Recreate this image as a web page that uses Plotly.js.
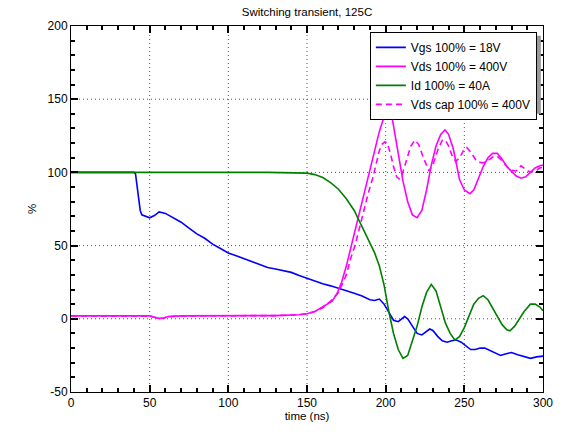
<!DOCTYPE html>
<html>
<head>
<meta charset="utf-8">
<script src="https://cdn.plot.ly/plotly-3.0.1.min.js"></script>
<style>html,body{margin:0;padding:0;background:#fff;}#chart{width:572px;height:436px;}</style>
</head>
<body>
<div id="chart"></div>
<script>
// Vgs (100% = 18V)
var vgsT = [0, 10, 20, 30, 40, 41, 42, 43, 44, 45, 47, 50, 53, 56, 60, 65, 70, 75, 80, 85, 90, 95, 100, 105, 110, 115, 120, 125, 130, 135, 140, 145, 150, 155, 160, 165, 170, 175, 180, 185, 190, 193, 196, 199, 202, 205, 208, 210, 212, 214, 217, 220, 223, 226, 228, 230, 233, 236, 239, 242, 245, 248, 251, 254, 257, 260, 263, 266, 270, 273, 276, 280, 284, 288, 292, 296, 300];
var vgsV = [100, 100, 100, 100.5, 100, 99, 90, 80, 74, 71, 70, 69, 70.5, 73, 72, 69, 66, 62, 58, 55, 51, 48, 45, 43, 41, 38.5, 36.5, 35, 34, 33, 31.7, 29.5, 27.5, 26, 24, 22.5, 21, 19.5, 17.5, 15.5, 13, 12.5, 13.5, 10, 4, -1, -2, 0, 1.5, 0, -5, -10, -11, -8.5, -7, -8, -12, -15, -16, -15, -14.5, -16, -18.5, -21, -21, -20, -20, -21.5, -23.5, -25, -24, -23, -24.5, -26, -27, -26, -25.5];

// Vds (100% = 400V)
var vdsT = [0, 20, 40, 50, 53, 56, 59, 62, 70, 100, 130, 145, 150, 155, 160, 163, 166, 169, 172, 175, 178, 181, 184, 187, 190, 193, 196, 199, 201.7, 204, 208, 211, 214, 217, 220, 223, 226, 229, 232, 235, 237.7, 240, 243, 247, 250, 253.6, 256, 259, 262, 265, 268, 271, 274, 277, 280, 283, 286, 289, 292, 295, 298, 300];
var vdsV = [2, 2, 2, 2, 1, 0.3, 0.5, 1.5, 2, 2, 2.2, 2.8, 3.5, 5, 8, 10, 12, 17, 25, 36, 49, 62, 75, 88, 101, 115, 128, 138, 142.5, 138, 112, 94, 80, 71, 69, 74, 88, 105, 118, 126, 129, 126, 116, 95, 88, 85.5, 88, 96, 104, 110, 113, 113, 109, 104, 101, 97.5, 96, 97, 100, 103, 104.5, 105];

// Id (100% = 40A)
var idT = [0, 25, 50, 75, 100, 125, 150, 155, 160, 165, 170, 175, 180, 185, 190, 193, 196, 199, 202, 205, 208, 211, 214, 217, 220, 223, 226, 229, 232, 235, 238, 241, 244, 247, 250, 253, 256, 259, 262, 265, 268, 271, 274, 277, 279, 282, 285, 288, 292, 295, 298, 300];
var idV = [100, 100, 100.5, 100, 100.5, 100, 99.5, 98.5, 96.5, 93, 88.5, 82, 74, 63, 52, 45, 36, 23, 5, -10, -21, -27, -25, -15, -5, 8, 18, 23.5, 19, 8, -3, -10, -14.5, -12, -6, 2, 10, 14, 15.8, 13, 7, 1, -4, -7.5, -8.2, -5, 0.5, 5, 10, 10, 8, 5.5];

// Vds cap (100% = 400V)
var capT = [0, 20, 40, 50, 53, 56, 59, 62, 70, 100, 130, 145, 150, 155, 160, 165, 170, 175, 178, 180.5, 183, 186, 189, 192, 194, 196, 198, 199.6, 201, 203, 205, 207, 208.5, 210, 212, 214, 216, 218.6, 221, 224, 227.5, 230, 233, 236, 238, 240, 242, 244.5, 247, 250, 251.5, 254, 257, 259, 262, 265, 268, 271, 274, 277, 280, 283, 286, 289, 292, 295, 298, 300];
var capV = [2, 2, 2, 2, 1, 0.3, 0.5, 1.5, 2, 2, 2.2, 2.8, 3.5, 5, 7.5, 12, 18, 30, 42, 50, 61, 74, 86, 97, 106, 115, 119.5, 121, 120, 113, 104, 97, 95.5, 97, 104, 111, 118, 122, 119, 110, 101, 105, 115, 122, 122, 118, 112, 107.5, 110, 116, 117, 114, 109, 107, 106.5, 108, 110.5, 111, 108, 104, 101.5, 101, 104.5, 102, 100, 101, 103, 103.5];

var names = ['Vgs 100% = 18V', 'Vds 100% = 400V', 'Id 100% = 40A', 'Vds cap 100% = 400V'];
var xTicks = [0, 50, 100, 150, 200, 250, 300];
var yTicks = [-50, 0, 50, 100, 150, 200];

var traces = [
  {x: vgsT, y: vgsV, name: names[0], mode: 'lines', line: {color: '#0000ff', width: 1.6}},
  {x: vdsT, y: vdsV, name: names[1], mode: 'lines', line: {color: '#ff00ff', width: 1.6}},
  {x: idT, y: idV, name: names[2], mode: 'lines', line: {color: '#008000', width: 1.6}},
  {x: capT, y: capV, name: names[3], mode: 'lines', line: {color: '#ff00ff', width: 1.6, dash: '6px,4px'}}
];

var tickFont = {family: 'Liberation Sans, Arial, sans-serif', size: 12, color: '#000'};

function axis(range, ticks, titleText, standoff) {
  return {
    range: range, tickmode: 'array', tickvals: ticks, ticktext: ticks.map(String),
    showline: true, linecolor: '#000', linewidth: 1, mirror: 'allticks',
    ticks: 'inside', ticklen: 7, tickcolor: '#000', tickwidth: 1.5,
    showgrid: false, zeroline: false,
    tickfont: tickFont,
    minor: {dtick: 10, ticks: 'inside', ticklen: 4, tickwidth: 1.5, tickcolor: '#000'},
    title: {text: titleText, font: {size: 11.5, color: '#000'}, standoff: standoff}
  };
}

// dotted grid at the major ticks, drawn under the traces
var gridShapes = [];
xTicks.slice(1, -1).forEach(function (v) {
  gridShapes.push({type: 'line', xref: 'x', yref: 'paper', x0: v, x1: v, y0: 0, y1: 1, layer: 'below',
                   line: {color: '#555', width: 1, dash: '1px,3px'}});
});
yTicks.slice(1, -1).forEach(function (v) {
  gridShapes.push({type: 'line', xref: 'paper', yref: 'y', x0: 0, x1: 1, y0: v, y1: v, layer: 'below',
                   line: {color: '#555', width: 1, dash: '1px,3px'}});
});
// legend shadow
gridShapes.push({type: 'rect', xref: 'paper', yref: 'paper', layer: 'above',
  x0: 0.987 - 165/472 + 4/472, x1: 0.987 + 4/472,
  y0: 0.984 - 78/366 - 4/366, y1: 0.984 - 4/366,
  fillcolor: '#999', line: {width: 0}});

var layout = {
  width: 572, height: 436,
  margin: {l: 71, r: 29, t: 26, b: 44},
  font: {family: 'Liberation Sans, Arial, sans-serif', color: '#000'},
  title: {text: 'Switching transient, 125C', font: {size: 11.5, color: '#000'}, x: 0.5, xref: 'paper', y: 0.972, yanchor: 'middle'},
  xaxis: axis([0, 300], xTicks, 'time (ns)', 0),
  yaxis: axis([-50, 200], yTicks, '%', 8),
  showlegend: true,
  legend: {
    x: 0.987, xanchor: 'right', y: 0.984, yanchor: 'top',
    bgcolor: '#fff', bordercolor: '#000', borderwidth: 1,
    font: {size: 12, color: '#000'}, tracegroupgap: 0
  },
  shapes: gridShapes
};

Plotly.newPlot('chart', traces, layout, {displayModeBar: false});
</script>
</body>
</html>
